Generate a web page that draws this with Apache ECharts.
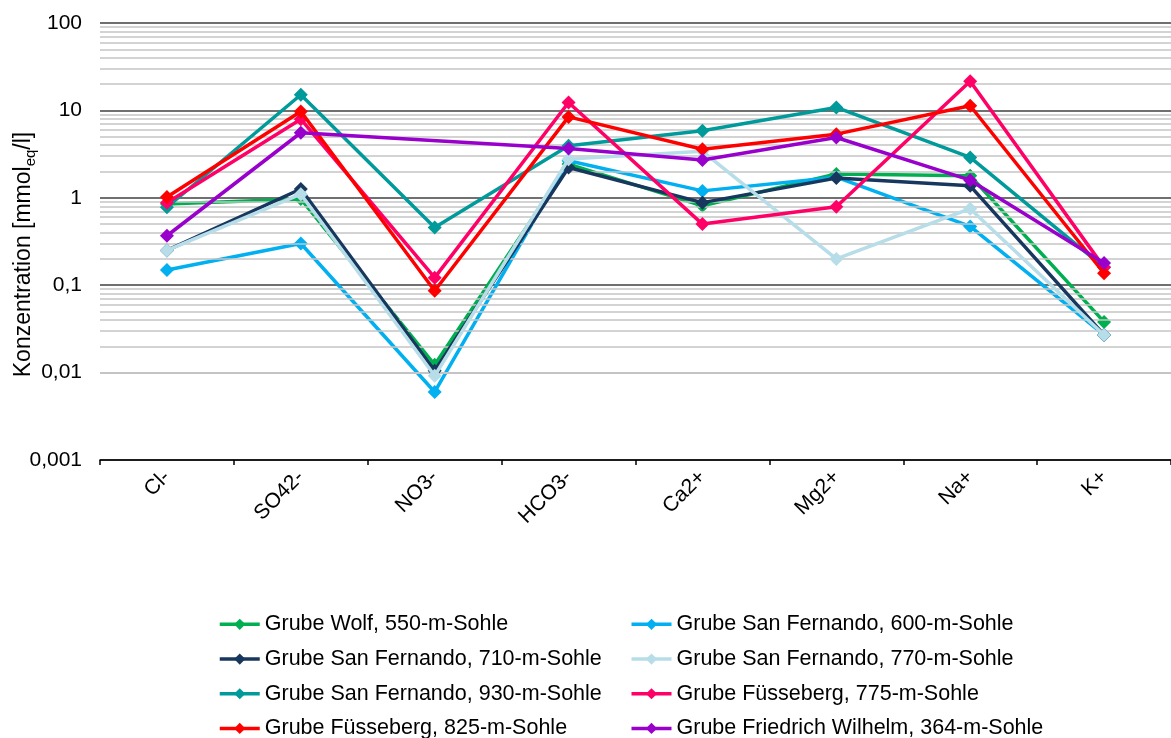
<!DOCTYPE html>
<html>
<head>
<meta charset="utf-8">
<script src="https://cdn.jsdelivr.net/npm/echarts@6/dist/echarts.min.js"></script>
<style>html,body{margin:0;padding:0;background:#fff}#c{width:1171px;height:738px}</style>
</head>
<body>
<div id="c"></div>
<script>
var categories = ['Cl-', 'SO42-', 'NO3-', 'HCO3-', 'Ca2+', 'Mg2+', 'Na+', 'K+'];
var seriesNames = [
  'Grube Wolf, 550-m-Sohle',
  'Grube San Fernando, 600-m-Sohle',
  'Grube San Fernando, 710-m-Sohle',
  'Grube San Fernando, 770-m-Sohle',
  'Grube San Fernando, 930-m-Sohle',
  'Grube Füsseberg, 775-m-Sohle',
  'Grube Füsseberg, 825-m-Sohle',
  'Grube Friedrich Wilhelm, 364-m-Sohle'
];
var wolf550   = [0.85, 0.97, 0.0123, 2.43, 0.81, 1.87, 1.79, 0.038];
var sf600     = [0.149, 0.30, 0.006, 2.65, 1.2, 1.72, 0.47, 0.027];
var sf710     = [0.25, 1.26, 0.0105, 2.22, 0.88, 1.68, 1.37, 0.027];
var sf770     = [0.25, 1.1, 0.0092, 2.77, 3.4, 0.2, 0.75, 0.027];
var sf930     = [0.78, 15.1, 0.457, 3.94, 5.84, 10.8, 2.9, 0.16];
var fb775     = [0.88, 7.94, 0.122, 12.3, 0.5, 0.79, 21.5, 0.16];
var fb825     = [1.02, 9.7, 0.0865, 8.43, 3.6, 5.35, 11.3, 0.137];
var fw364     = [0.368, 5.55, null, 3.67, 2.7, 4.9, 1.59, 0.18];
var yTickLabels = ['0,001', '0,01', '0,1', '1', '10', '100'];
var colors = ['#00B050', '#00B0F0', '#17375E', '#B7DDE8', '#009A9A', '#FF0066', '#FF0000', '#9900CC'];
var allData = [wolf550, sf600, sf710, sf770, sf930, fb775, fb825, fw364];

var minorLines = [];
for (var d = -3; d <= 1; d++) {
  for (var k = 2; k <= 9; k++) {
    minorLines.push({ yAxis: Number((k * Math.pow(10, d)).toPrecision(6)) });
  }
}

var FONT = 'Liberation Sans, Arial, sans-serif';
var series = [{
  type: 'line', data: [], z: 1, silent: true,
  markLine: {
    silent: true, symbol: 'none', label: { show: false },
    lineStyle: { color: '#C4C4C4', width: 1.5, type: 'solid' },
    animation: false,
    data: minorLines
  }
}];
allData.forEach(function (arr, i) {
  series.push({
    name: seriesNames[i], type: 'line', data: arr, z: 3 + i,
    connectNulls: true, symbol: 'diamond', symbolSize: 14,
    lineStyle: { width: 3.5, color: colors[i] },
    itemStyle: { color: colors[i] }
  });
});

var chart = echarts.init(document.getElementById('c'), null, { renderer: 'canvas' });
chart.setOption({
  animation: false,
  backgroundColor: '#fff',
  color: colors,
  grid: { left: 100, right: 0, top: 23, bottom: 278, containLabel: false, outerBoundsMode: 'none' },
  xAxis: {
    type: 'category', data: categories, boundaryGap: true,
    axisLine: { show: true, lineStyle: { color: '#000', width: 1.5 } },
    axisTick: { show: true, length: 5, lineStyle: { color: '#000', width: 1.5 } },
    axisLabel: { rotate: 45, margin: 14, color: '#000', fontSize: 21, fontFamily: FONT },
    splitLine: { show: false }
  },
  yAxis: {
    type: 'log', logBase: 10, min: 0.001, max: 100,
    axisLine: { show: false }, axisTick: { show: false },
    splitLine: { show: true, lineStyle: { color: '#404040', width: 1.5 } },
    axisLabel: {
      margin: 18, color: '#000', fontSize: 21, fontFamily: FONT,
      formatter: function (v) {
        var idx = Math.round(Math.log10(v)) + 3;
        return yTickLabels[idx] !== undefined ? yTickLabels[idx] : String(v).replace('.', ',');
      }
    },
    name: '{a|Konzentration [mmol}{b|eq}{a|/l]}',
    nameLocation: 'middle', nameRotate: 90, nameGap: 62,
    nameMoveOverlap: false,
    nameTextStyle: {
      padding: [0, 26, 0, 0],
      rich: {
        a: { fontSize: 23, lineHeight: 28, verticalAlign: 'middle', color: '#000', fontFamily: FONT },
        b: { fontSize: 15, lineHeight: 15, verticalAlign: 'bottom', color: '#000', fontFamily: FONT }
      }
    }
  },
  legend: {
    data: seriesNames,
    left: 218, top: 607, width: 840, padding: 0,
    orient: 'horizontal', itemGap: 0, itemWidth: 40, itemHeight: 14,
    lineStyle: { width: 3.5 },
    textStyle: { fontSize: 21.5, color: '#000', width: 365, lineHeight: 34.7, fontFamily: FONT }
  },
  series: series
});
</script>
</body>
</html>
